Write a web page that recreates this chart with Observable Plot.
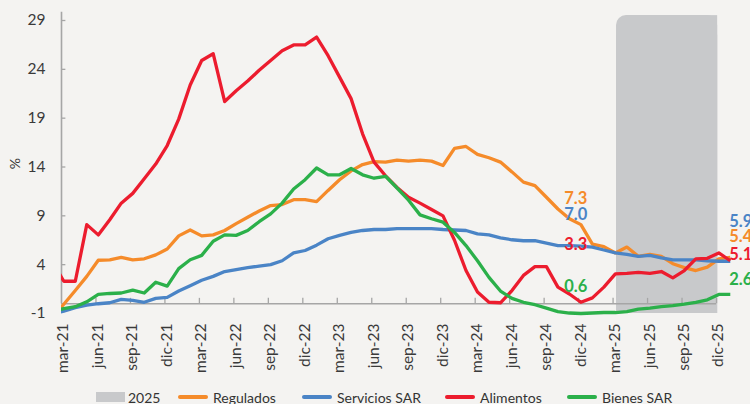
<!DOCTYPE html>
<html><head><meta charset="utf-8">
<script src="https://cdn.jsdelivr.net/npm/d3@7"></script>
<script src="https://cdn.jsdelivr.net/npm/@observablehq/plot@0.6"></script>
<style>
html,body{margin:0;padding:0;background:#f4f3f1;}
#wrap{position:relative;width:750px;height:404px;overflow:hidden;font-family:Lato,"Open Sans",sans-serif;}
#legend{position:relative;height:18px;font-size:14px;color:#333;}
.item{position:absolute;top:0;height:18px;display:flex;align-items:center;white-space:nowrap;}
.sw{display:inline-block;margin-right:5px;}
.sw.line{width:30px;height:4px;border-radius:2px;}
.sw.box{width:29px;height:10px;background:#c8c9cb;margin-right:3px;}
</style></head>
<body>
<div id="wrap"><div id="chart"></div><div id="legend"></div></div>
<script>
// Months: feb-21 ... ene-26 (first point only partly visible, clipped at the axis)
const months = d3.utcMonth.range(new Date(Date.UTC(2021, 1, 1)), new Date(Date.UTC(2026, 1, 1)));

const regulados = [-1.45, -0.05, 1.35, 2.8, 4.45, 4.5, 4.75, 4.5, 4.6, 5.0, 5.6, 6.95, 7.55, 6.95, 7.05, 7.5, 8.2, 8.85, 9.5, 10.05,
  10.15, 10.65, 10.65, 10.45, 11.6, 12.7, 13.6, 14.25, 14.55, 14.5, 14.7, 14.6, 14.7, 14.6, 14.15, 15.9, 16.1, 15.3, 14.95, 14.5,
  13.5, 12.45, 12.1, 10.9, 9.7, 8.7, 8.1, 6.1, 5.85, 5.2, 5.8, 4.85, 5.05, 4.85, 4.1, 3.7, 3.4, 3.75, 4.6, 4.75];

const serviciosSAR = [-1.1, -0.75, -0.4, -0.15, 0.0, 0.1, 0.45, 0.35, 0.15, 0.55, 0.65, 1.3, 1.85, 2.4, 2.8, 3.3, 3.5, 3.7, 3.85, 4.0,
  4.4, 5.2, 5.45, 6.0, 6.65, 7.0, 7.3, 7.5, 7.6, 7.6, 7.7, 7.7, 7.7, 7.7, 7.6, 7.55, 7.5, 7.15, 7.05, 6.75,
  6.55, 6.45, 6.45, 6.2, 5.95, 5.95, 5.9, 5.8, 5.5, 5.2, 5.05, 4.85, 4.95, 4.7, 4.5, 4.5, 4.5, 4.4, 4.35, 4.35];

const alimentos = [4.3, 2.3, 2.3, 8.1, 7.05, 8.6, 10.3, 11.3, 12.8, 14.3, 16.2, 18.9, 22.4, 24.9, 25.6, 20.7, 21.8, 22.8, 23.9, 24.9,
  25.9, 26.5, 26.5, 27.3, 25.4, 23.2, 21.0, 17.4, 14.5, 13.1, 11.9, 10.9, 10.3, 9.65, 9.0, 6.5, 3.4, 1.2, 0.15, 0.1,
  1.35, 2.9, 3.8, 3.8, 1.7, 1.0, 0.15, 0.6, 1.7, 3.05, 3.1, 3.2, 3.1, 3.3, 2.65, 3.4, 4.6, 4.65, 5.2, 4.4];

const bienesSAR = [-0.75, -0.5, -0.3, 0.2, 0.95, 1.05, 1.1, 1.4, 1.1, 2.2, 1.8, 3.6, 4.5, 4.95, 6.4, 7.05, 7.0, 7.5, 8.4, 9.2,
  10.3, 11.75, 12.7, 13.9, 13.2, 13.2, 13.85, 13.2, 12.85, 13.05, 11.85, 10.6, 9.1, 8.7, 8.35, 7.3, 5.95, 4.4, 2.7, 1.3,
  0.55, 0.15, -0.1, -0.45, -0.8, -0.95, -1.0, -0.95, -0.9, -0.9, -0.8, -0.55, -0.45, -0.3, -0.2, -0.05, 0.15, 0.4, 0.95, 0.95];

const seriesNames = ["Regulados", "Servicios SAR", "Alimentos", "Bienes SAR"];
const seriesColors = ["#f58b2a", "#4a84c6", "#ec1c2e", "#2bb04a"];
const seriesValues = [regulados, serviciosSAR, alimentos, bienesSAR];

const tickLabels = ["mar-21","jun-21","sep-21","dic-21","mar-22","jun-22","sep-22","dic-22","mar-23","jun-23",
  "sep-23","dic-23","mar-24","jun-24","sep-24","dic-24","mar-25","jun-25","sep-25","dic-25"];
const yTicks = [-1, 4, 9, 14, 19, 24, 29];

// Dec-24 annotations and end-of-period annotations
const decLabels = ["7.3", "7.0", "3.3", "0.6"];
const decLabelY = [10.75, 9.1, 6.0, 1.7];
const decLabelColors = ["#f58b2a", "#4a84c6", "#ec1c2e", "#2bb04a"];
const endLabels = ["5.9", "5.4", "5.1", "2.6"];
const endLabelY = [8.35, 6.9, 5.05, 2.5];
const endLabelColors = ["#4a84c6", "#f58b2a", "#ec1c2e", "#2bb04a"];

// 2025 shaded period (in months from mar-21)
const shadeFrom = 48.3, shadeTo = 57.1, shadeTop = 29.5;

// month index helpers: t = months since mar-21; points sit ~a fifth into the month
const start = months[1];
const tOf = d => d3.utcMonth.count(start, d) + 0.2;

const rows = seriesNames.flatMap((name, s) => seriesValues[s].map((v, i) => ({name, t: tOf(months[i]), v})));

const W = 750, H = 386;
const gray = "#a6a6a6";
const txt = "#3a3a3a";

const chart = Plot.plot({
  width: W, height: H,
  marginLeft: 61, marginRight: 10, marginTop: 6, marginBottom: 64,
  style: {background: "transparent", fontFamily: "Lato, 'Open Sans', sans-serif", overflow: "visible"},
  x: {type: "linear", domain: [0, 57], range: [61, 716], axis: null},
  y: {type: "linear", domain: [-1, 29], range: [313, 20], axis: null},
  color: {domain: seriesNames, range: seriesColors},
  marks: [
    // 2025 shading: rounded top-left corner only
    Plot.rect([{}], {x1: shadeFrom, x2: shadeTo, y1: -1, y2: shadeTop, fill: "#c8c9cb", rx: 10}),
    Plot.rect([{}], {x1: shadeFrom + 1.5, x2: shadeTo, y1: -1, y2: shadeTop, fill: "#c8c9cb"}),
    Plot.rect([{}], {x1: shadeFrom, x2: shadeTo, y1: -1, y2: shadeTop - 2, fill: "#c8c9cb"}),
    // axes
    Plot.ruleX([0], {y1: 0, y2: 29.85, stroke: gray, strokeWidth: 1.6}),
    Plot.ruleY([0], {x1: 0, x2: 57, stroke: gray, strokeWidth: 1.6}),
    Plot.ruleY(yTicks.filter(d => d > 0), {x1: 0, x2: 0.38, stroke: gray, strokeWidth: 1.3}),
    Plot.ruleX(tickLabels.map((_, i) => i * 3).filter(d => d > 0), {y1: 0, y2: 0.55, stroke: gray, strokeWidth: 1.3}),
    Plot.text(yTicks, {x: 0, y: d => d, dx: -16, textAnchor: "end", fontSize: 15.5, fill: txt}),
    Plot.text(tickLabels, {x: (d, i) => i * 3, y: -1, dx: 2, dy: 10, rotate: -90, textAnchor: "end", fontSize: 15.5, fill: txt}),
    Plot.text(["%"], {x: 0, y: 14.35, dx: -46, rotate: -90, fontSize: 14, fill: txt}),
    // series
    Plot.line(rows, {x: "t", y: "v", z: "name", stroke: "name", strokeWidth: 3.3, clip: true,
      strokeLinejoin: "round", strokeLinecap: "butt"}),
    // annotations
    Plot.text(decLabels, {x: 44.75, y: (d, i) => decLabelY[i], fill: (d, i) => decLabelColors[i],
      fontSize: 16.5, fontWeight: "bold", textAnchor: "middle"}),
    Plot.text(endLabels, {x: 58.1, y: (d, i) => endLabelY[i], fill: (d, i) => endLabelColors[i],
      fontSize: 16.5, fontWeight: "bold", textAnchor: "start"})
  ]
});
document.getElementById("chart").appendChild(chart);

// legend
const legendItems = [{label: "2025", box: true, left: 96}]
  .concat(seriesNames.map((n, i) => ({label: n, color: seriesColors[i], left: [178, 302, 445, 567][i]})));
const lg = document.getElementById("legend");
lg.style.marginTop = "2px";
for (const it of legendItems) {
  const d = document.createElement("div");
  d.className = "item";
  d.style.left = it.left + "px";
  const sw = document.createElement("span");
  sw.className = "sw " + (it.box ? "box" : "line");
  if (!it.box) sw.style.background = it.color;
  const t = document.createElement("span");
  t.textContent = it.label;
  d.appendChild(sw); d.appendChild(t);
  lg.appendChild(d);
}
</script>
</body></html>
